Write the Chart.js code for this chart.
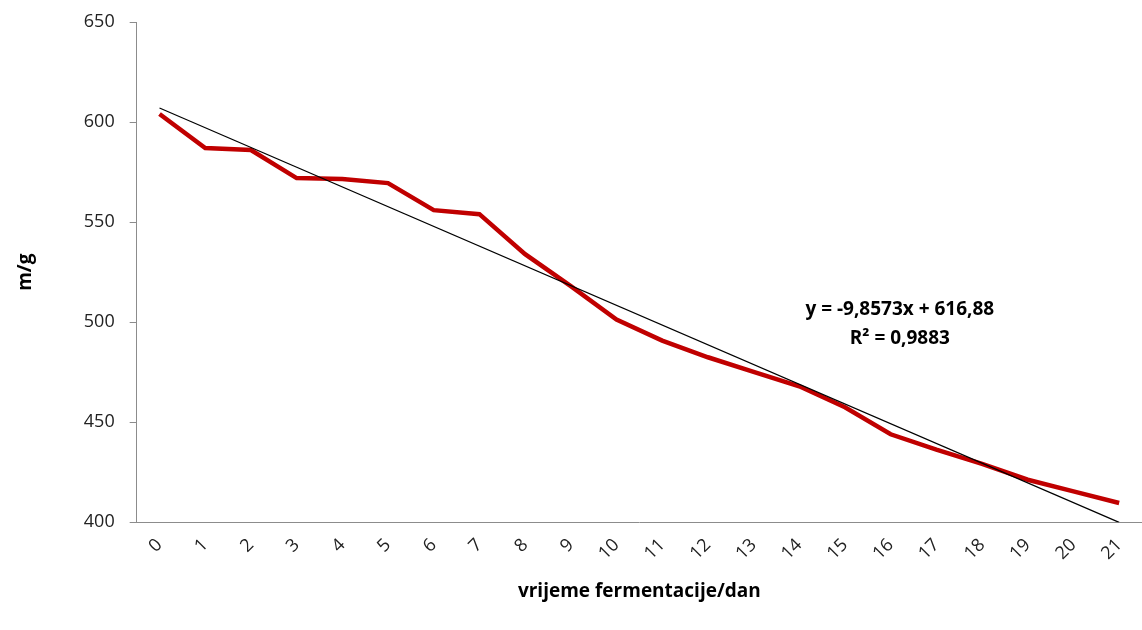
<!DOCTYPE html>
<html>
<head>
<meta charset="utf-8">
<script src="https://cdn.jsdelivr.net/npm/chart.js@4.4.1/dist/chart.umd.min.js"></script>
<style>
html,body{margin:0;padding:0;background:#fff;}
#wrap{width:1142px;height:630px;position:relative;}
</style>
</head>
<body>
<div id="wrap"><canvas id="c" width="1142" height="630"></canvas></div>
<script>
const categories = ['0','1','2','3','4','5','6','7','8','9','10','11','12','13','14','15','16','17','18','19','20','21'];
const massValues = [604, 587, 586, 572, 571.5, 569.5, 556, 554, 534, 518, 501.3, 490.8, 482.5, 475.2, 468, 457.5, 444, 436.3, 429.2, 421.3, 415.5, 409.7];
const trendValues = [607.02, null, null, null, null, null, null, null, null, null, null, null, null, null, null, null, null, null, null, null, null, 400.02];
const yTicks = [400, 450, 500, 550, 600, 650];
const equationLines = ['y = -9,8573x + 616,88', 'R² = 0,9883'];

const FONT = "'Open Sans', 'Liberation Sans', sans-serif";

const textPlugin = {
  id: 'eqText',
  afterDatasetsDraw(chart) {
    const ctx = chart.ctx;
    const xs = chart.scales.x, ys = chart.scales.y;
    ctx.save();
    ctx.fillStyle = '#000';
    ctx.font = 'bold 19px ' + FONT;
    ctx.textAlign = 'center';
    ctx.textBaseline = 'middle';
    const cx = xs.getPixelForValue(16.2);
    ctx.fillText(equationLines[0], cx, ys.getPixelForValue(506.5));
    ctx.fillText(equationLines[1], cx, ys.getPixelForValue(492));
    ctx.restore();
  }
};

new Chart(document.getElementById('c'), {
  type: 'line',
  data: {
    labels: categories,
    datasets: [
      {
        data: massValues,
        borderColor: '#C00000',
        borderWidth: 4.5,
        pointRadius: 0,
        tension: 0,
        fill: false,
        order: 2
      },
      {
        data: trendValues,
        borderColor: '#000',
        borderWidth: 1.2,
        pointRadius: 0,
        spanGaps: true,
        tension: 0,
        fill: false,
        order: 1
      }
    ]
  },
  options: {
    responsive: false,
    animation: false,
    layout: { padding: { top: 22, right: 0, left: 10, bottom: 27 } },
    plugins: { legend: { display: false }, tooltip: { enabled: false } },
    scales: {
      x: {
        offset: true,
        grid: { display: false, drawOnChartArea: false, drawTicks: true, tickLength: 6, color: '#8c8c8c', offset: true },
        border: { display: true, color: '#8c8c8c', width: 1 },
        ticks: { color: '#222', font: { family: FONT, size: 18 }, minRotation: 45, maxRotation: 45, autoSkip: false, padding: 6 },
        title: { display: true, text: 'vrijeme fermentacije/dan', color: '#000', font: { family: FONT, size: 19, weight: 'bold' }, padding: { top: 10, bottom: 0 } }
      },
      y: {
        min: 400, max: 650,
        afterBuildTicks(scale) { scale.ticks = yTicks.map(v => ({ value: v })); },
        afterFit(scale) { scale.paddingTop = 0; scale.paddingBottom = 0; },
        grid: { drawOnChartArea: false, drawTicks: true, tickLength: 7, color: '#8c8c8c' },
        border: { display: true, color: '#8c8c8c', width: 1 },
        ticks: { color: '#222', font: { family: FONT, size: 18 }, padding: 15 },
        title: { display: true, text: 'm/g', color: '#000', font: { family: FONT, size: 19, weight: 'bold' }, padding: { bottom: 32 } }
      }
    }
  },
  plugins: [textPlugin]
});
</script>
</body>
</html>
